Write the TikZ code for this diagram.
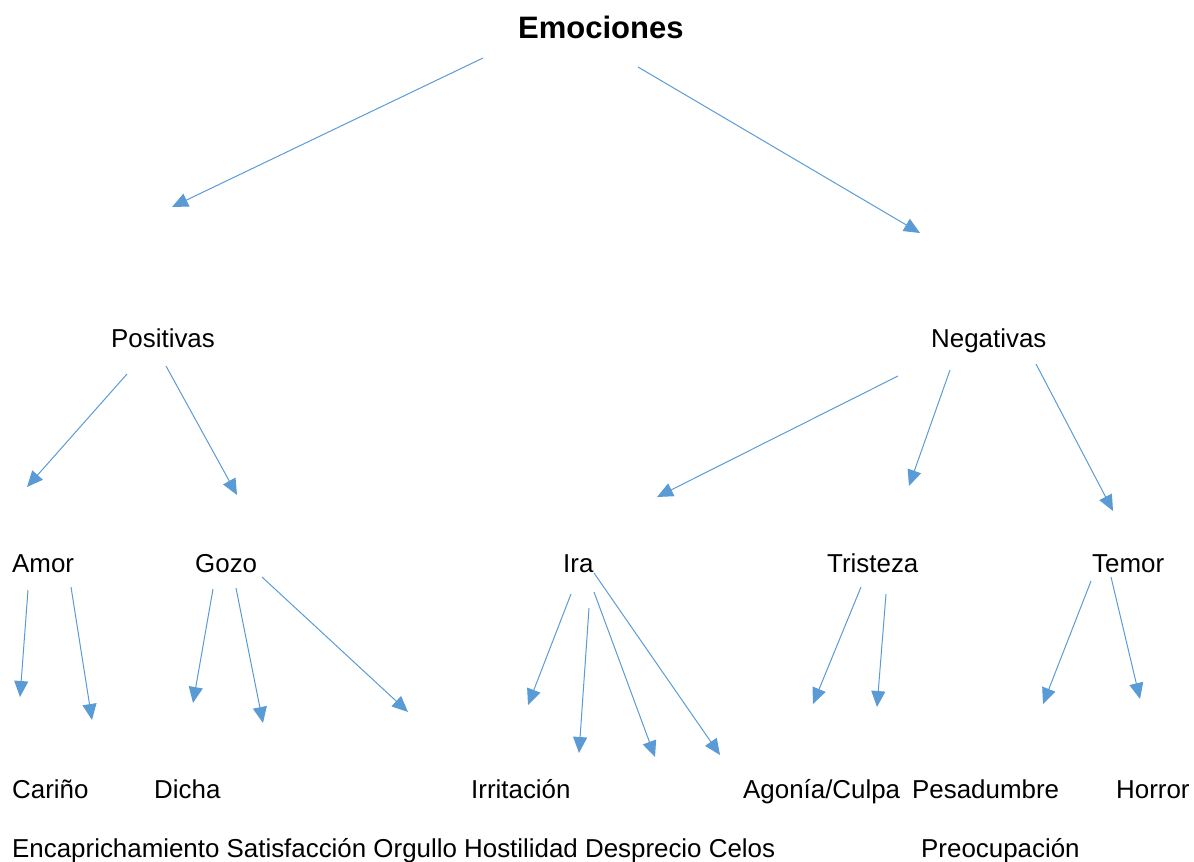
\documentclass[tikz,border=0pt]{standalone}
\usepackage{fontspec}
\setmainfont{Liberation Sans}
\usetikzlibrary{arrows.meta}
\definecolor{arrowblue}{HTML}{5B9BD5}
\tikzset{
  lbl/.style={anchor=base west, inner sep=0pt, font=\fontsize{25.9}{30}\selectfont},
  ttl/.style={anchor=base west, inner sep=0pt, font=\fontsize{31}{36}\selectfont\bfseries},
  conn/.style={draw=arrowblue, line width=1pt, -{Triangle[length=16pt,width=14pt]}, arrowblue}
}
\begin{document}
\begin{tikzpicture}[x=1pt,y=-1pt]
\useasboundingbox (0,0) rectangle (1194,862);
% texts
\node[ttl] (emo) at (518,38) {Emociones};
\node[lbl] (pos) at (111,347) {Positivas};
\node[lbl] (neg) at (931,347) {Negativas};
\node[lbl] (amor) at (12,572) {Amor};
\node[lbl] (gozo) at (195,572) {Gozo};
\node[lbl] (ira) at (563,572) {Ira};
\node[lbl] (tris) at (827,572) {Tristeza};
\node[lbl] (temor) at (1092,572) {Temor};
\node[lbl] (car) at (12,798) {Cariño};
\node[lbl] (dicha) at (154,798) {Dicha};
\node[lbl] (irr) at (471,798) {Irritación};
\node[lbl] (ago) at (743,798) {Agonía/Culpa};
\node[lbl] (pesa) at (912,798) {Pesadumbre};
\node[lbl] (horror) at (1116,798) {Horror};
\node[lbl] (row) at (12,857) {Encaprichamiento Satisfacción Orgullo Hostilidad Desprecio Celos};
\node[lbl] (preo) at (921,857) {Preocupación};
% connector ends
\coordinate (e1s) at (483,58);   \coordinate (e1t) at (172,207);
\coordinate (e2s) at (638,67);   \coordinate (e2t) at (920,233);
\coordinate (p1s) at (127,374);  \coordinate (p1t) at (27,487);
\coordinate (p2s) at (166,366);  \coordinate (p2t) at (237,495);
\coordinate (n1s) at (898,376);  \coordinate (n1t) at (657,497);
\coordinate (n2s) at (950,370);  \coordinate (n2t) at (909,486);
\coordinate (n3s) at (1036,364); \coordinate (n3t) at (1113,511);
\coordinate (a1s) at (28,590);   \coordinate (a1t) at (20,697);
\coordinate (a2s) at (71,587);   \coordinate (a2t) at (92,720);
\coordinate (g1s) at (213,589);  \coordinate (g1t) at (193,703);
\coordinate (g2s) at (236,588);  \coordinate (g2t) at (263,723);
\coordinate (g3s) at (262,577);  \coordinate (g3t) at (408,712);
\coordinate (i1s) at (571,594);  \coordinate (i1t) at (528,705);
\coordinate (i2s) at (589,608);  \coordinate (i2t) at (579,753);
\coordinate (i3s) at (594,592);  \coordinate (i3t) at (655,757);
\coordinate (i4s) at (594,573);  \coordinate (i4t) at (720,755);
\coordinate (t1s) at (861,587);  \coordinate (t1t) at (813,704);
\coordinate (t2s) at (886,594);  \coordinate (t2t) at (877,707);
\coordinate (m1s) at (1091,581); \coordinate (m1t) at (1043,704);
\coordinate (m2s) at (1111,577); \coordinate (m2t) at (1140,699);
% connectors
\foreach \a in {e1,e2,p1,p2,n1,n2,n3,a1,a2,g1,g2,g3,i1,i2,i3,i4,t1,t2,m1,m2}
  \draw[conn] (\a s) -- (\a t);
\end{tikzpicture}
\end{document}
